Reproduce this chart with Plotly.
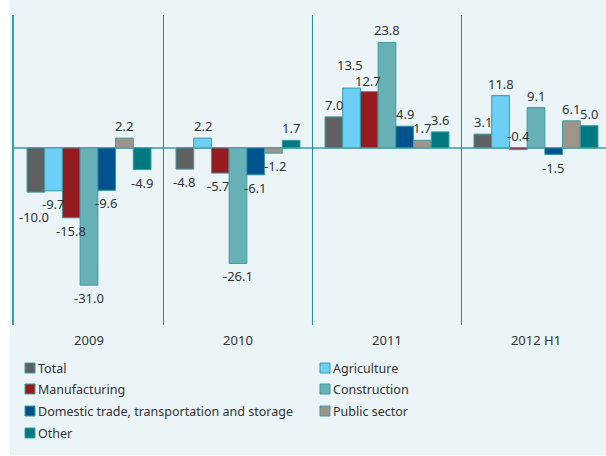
import plotly.graph_objects as go

# ---------------- data ----------------
categories = ["2009", "2010", "2011", "2012 H1"]
series_names = ["Total", "Agriculture", "Manufacturing", "Construction",
                "Domestic trade, transportation and storage", "Public sector", "Other"]
total = [-10.0, -4.8, 7.0, 3.1]
agriculture = [-9.7, 2.2, 13.5, 11.8]
manufacturing = [-15.8, -5.7, 12.7, -0.4]
construction = [-31.0, -26.1, 23.8, 9.1]
domestic_trade = [-9.6, -6.1, 4.9, -1.5]
public_sector = [2.2, -1.2, 1.7, 6.1]
other = [-4.9, 1.7, 3.6, 5.0]

values = [total, agriculture, manufacturing, construction, domestic_trade, public_sector, other]

# ---------------- style ----------------
colors = ["#5f6062", "#6dcff6", "#961b1f", "#66b0b6", "#00538f", "#a09489", "#007980"]
outline = "#3b9ca3"
text_color = "#333333"
font_family = "Noto Sans, Open Sans, sans-serif"
bg_color = "#ebf4f7"

W, H = 606, 456
L, T, PW, PH = 13, 15, 593, 310  # plot area in px
bargap = 0.168
n = len(series_names)
bw = (1 - bargap) / n

# label tweaks (px): (series index, category index) -> (dx, dy)
label_tweaks = {(0, 0): (-2, -12), (1, 2): (-2, 11), (2, 2): (-1, -1),
                (2, 3): (0, 27), (5, 1): (2, 0), (2, 1): (-2, 0)}


def px_x(p):
    return (p - L) / PW


def px_y(p):
    return (T + PH - p) / PH


fig = go.Figure()
for i, (name, vals) in enumerate(zip(series_names, values)):
    fig.add_trace(go.Bar(
        x=categories, y=vals, name=name,
        marker=dict(color=colors[i], line=dict(color=outline, width=1)),
        showlegend=False, hoverinfo="skip",
    ))

annotations = []
for i, vals in enumerate(values):
    for j, v in enumerate(vals):
        dx, dy = label_tweaks.get((i, j), (0, 0))
        base = 12 if v >= 0 else -13
        annotations.append(dict(
            x=j + (i - (n - 1) / 2) * bw, y=v, xref="x", yref="y",
            text=f"{v:.1f}", showarrow=False,
            xanchor="center", yanchor="middle",
            xshift=dx, yshift=base + dy,
            font=dict(family=font_family, size=13, color=text_color),
        ))

# background panel
shapes = [
    dict(type="rect", xref="paper", yref="paper", layer="below",
         x0=px_x(10), x1=px_x(W + 5), y0=px_y(455), y1=px_y(-5),
         fillcolor=bg_color, line=dict(width=0)),
]
# manual legend (two columns)
col_x = [25, 320]
row_y = [368, 389, 411, 433]
for i, name in enumerate(series_names):
    cx = col_x[i % 2]
    cy = row_y[i // 2]
    shapes.append(dict(type="rect", xref="paper", yref="paper",
                       x0=px_x(cx), x1=px_x(cx + 10), y0=px_y(cy + 5), y1=px_y(cy - 5),
                       fillcolor=colors[i], line=dict(color=outline, width=1)))
    annotations.append(dict(x=px_x(cx + 11), y=px_y(cy), xref="paper", yref="paper",
                            text=name, showarrow=False, xanchor="left", yanchor="middle",
                            font=dict(family=font_family, size=12.5, color=text_color)))

# dividers between categories
for k in range(1, len(categories)):
    shapes.append(dict(type="line", xref="x", yref="paper", x0=k - 0.5, x1=k - 0.5, y0=0, y1=1,
                       line=dict(color="#2b8790", width=1)))
shapes.append(dict(type="line", xref="paper", yref="paper", x0=0, x1=0, y0=0, y1=1,
                   line=dict(color="#3b9ca3", width=2)))

fig.update_layout(
    width=W, height=H,
    margin=dict(l=L, r=W - L - PW, t=T, b=H - T - PH, pad=0),
    paper_bgcolor="white", plot_bgcolor="rgba(0,0,0,0)",
    barmode="group", bargap=bargap, bargroupgap=0,
    shapes=shapes, annotations=annotations,
    font=dict(family=font_family, size=13, color=text_color),
    xaxis=dict(type="category", range=[-0.51, 3.47], showgrid=False, zeroline=False,
               showline=False, ticks="", ticklabelstandoff=6,
               tickfont=dict(family=font_family, size=13, color=text_color), fixedrange=True),
    yaxis=dict(range=[-40, 30], showgrid=False, showticklabels=False, ticks="",
               zeroline=True, zerolinecolor="#6ab2b8", zerolinewidth=2, fixedrange=True),
)

fig.write_html("out.html", config={"displayModeBar": False},
               post_script="document.body.style.margin='0';document.body.style.overflow='hidden';")
